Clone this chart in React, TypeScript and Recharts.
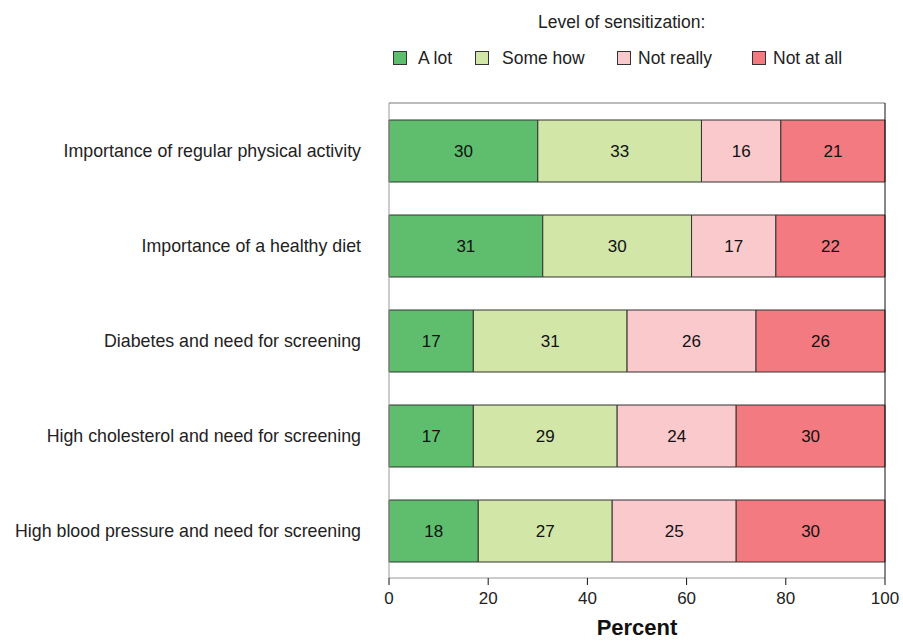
import React from 'react'
import { BarChart, Bar, XAxis, YAxis, LabelList } from 'recharts'

const topics = [
  'Importance of regular physical activity',
  'Importance of a healthy diet',
  'Diabetes and need for screening',
  'High cholesterol and need for screening',
  'High blood pressure and need for screening',
]

const seriesNames = ['A lot', 'Some how', 'Not really', 'Not at all']
const aLot = [30, 31, 17, 17, 18]
const someHow = [33, 30, 31, 29, 27]
const notReally = [16, 17, 26, 24, 25]
const notAtAll = [21, 22, 26, 30, 30]
const xTicks = [0, 20, 40, 60, 80, 100]
const rowEdges = [0, 1, 2, 3, 4, 5]

const COLORS = ['#5fbe6e', '#d2e6a8', '#f9c9cc', '#f37a80'] // green, light green, pink, red
const KEYS = ['aLot', 'someHow', 'notReally', 'notAtAll']

const data = topics.map((topic, i) => ({
  topic,
  aLot: aLot[i],
  someHow: someHow[i],
  notReally: notReally[i],
  notAtAll: notAtAll[i],
}))

// legend item placement (left of the swatch, gap to its text)
const legendLeft = [393, 475, 617, 752]
const legendGap = [11, 13, 7, 7]

export default function App() {
  return (
    <div
      style={{
        position: 'absolute',
        left: 0,
        top: 0,
        width: 903,
        height: 641,
        fontFamily: '"Liberation Sans", Arial, sans-serif',
        color: '#222',
      }}
    >
      {/* Legend */}
      <div style={{ position: 'absolute', left: 538, top: 12, fontSize: 17.5, lineHeight: '20px' }}>
        Level of sensitization:
      </div>
      {seriesNames.map((name, i) => (
        <div
          key={name}
          style={{
            position: 'absolute',
            left: legendLeft[i],
            top: 48,
            height: 20,
            display: 'flex',
            alignItems: 'center',
            fontSize: 17.5,
            lineHeight: '20px',
          }}
        >
          <span
            style={{
              display: 'inline-block',
              boxSizing: 'border-box',
              width: 14,
              height: 14,
              background: COLORS[i],
              border: '1px solid #333',
              marginRight: legendGap[i],
            }}
          />
          <span>{name}</span>
        </div>
      ))}

      <BarChart
        width={903}
        height={641}
        data={data}
        layout="vertical"
        margin={{ top: 102, right: 17, bottom: 0, left: 0 }}
      >
        <XAxis
          type="number"
          domain={[0, 100]}
          ticks={xTicks}
          axisLine={{ stroke: '#999' }}
          tickLine={{ stroke: '#111' }}
          tickSize={7}
          tickMargin={7}
          tick={{ fontSize: 17, fill: '#222' }}
          height={63}
          label={{
            value: 'Percent',
            position: 'insideBottom',
            offset: 6,
            fontSize: 22,
            fontWeight: 'bold',
            fill: '#111',
          }}
        />
        {/* top frame line */}
        <XAxis
          xAxisId="top"
          orientation="top"
          type="number"
          domain={[0, 100]}
          height={1}
          tick={false}
          tickLine={false}
          axisLine={{ stroke: '#777' }}
        />
        {/* ticks at the row boundaries */}
        <YAxis
          yAxisId="a"
          type="number"
          domain={[0, 5]}
          ticks={rowEdges}
          tick={false}
          tickSize={11}
          width={12}
          axisLine={{ stroke: '#999' }}
          tickLine={{ stroke: '#999' }}
        />
        <YAxis
          yAxisId="b"
          type="category"
          dataKey="topic"
          width={377}
          axisLine={false}
          tickLine={false}
          tickSize={0}
          tickMargin={16}
          tick={{ fontSize: 17.8, fill: '#222' }}
        />
        {/* right frame line */}
        <YAxis
          yAxisId="right"
          orientation="right"
          type="number"
          domain={[0, 5]}
          width={1}
          tick={false}
          tickLine={false}
          axisLine={{ stroke: '#111' }}
        />
        {KEYS.map((k, i) => (
          <Bar
            key={k}
            yAxisId="b"
            dataKey={k}
            name={seriesNames[i]}
            stackId="a"
            fill={COLORS[i]}
            stroke="#333"
            strokeWidth={1}
            barSize={62}
            isAnimationActive={false}
          >
            <LabelList dataKey={k} position="center" fill="#111" fontSize={17} />
          </Bar>
        ))}
      </BarChart>
    </div>
  )
}
